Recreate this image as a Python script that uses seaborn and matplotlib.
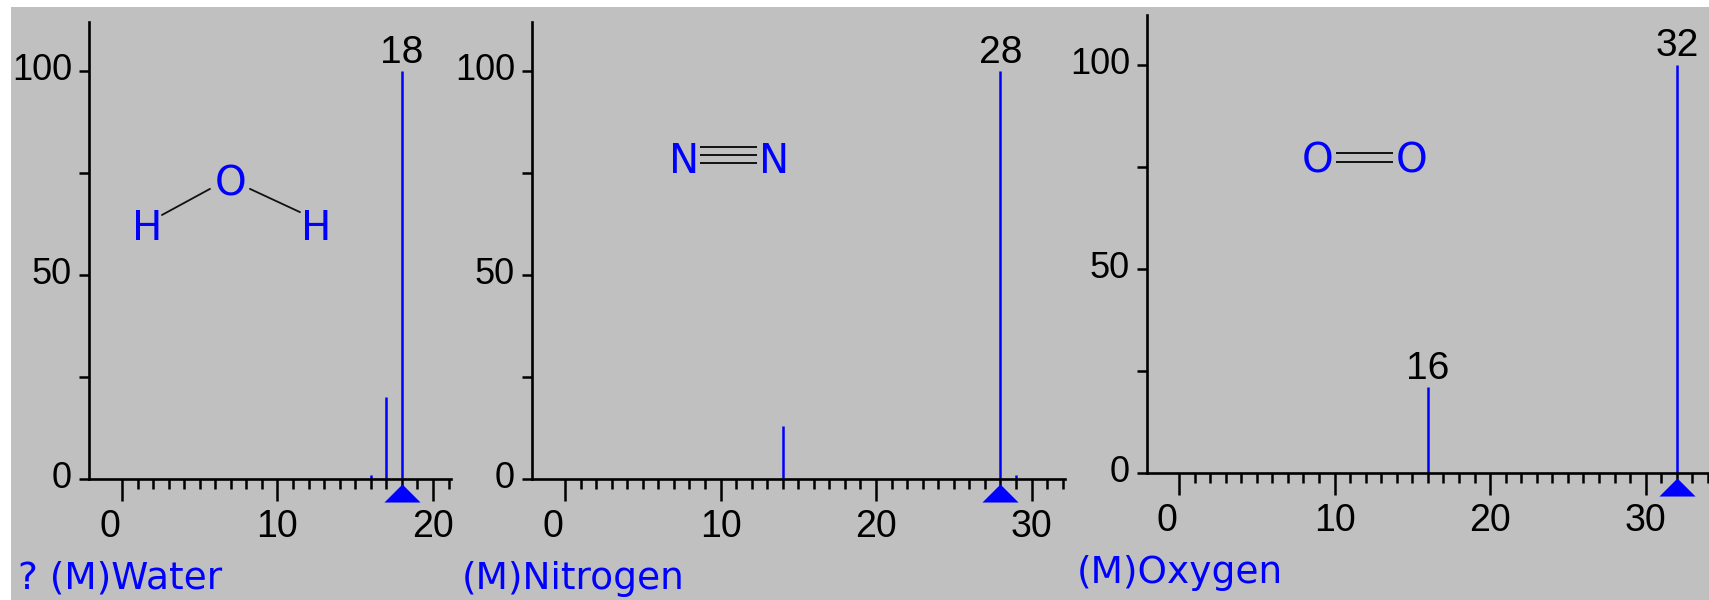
import matplotlib
matplotlib.use('Agg')
import matplotlib.pyplot as plt
import matplotlib.transforms as mtransforms
from matplotlib.patches import Rectangle
from matplotlib.path import Path
from matplotlib.ticker import FixedLocator, NullFormatter
import seaborn as sns

# mass spectra (m/z, relative intensity)
water_mz = [16, 17, 18]
water_int = [1, 20, 100]
nitrogen_mz = [14, 28, 29]
nitrogen_int = [13, 100, 1]
oxygen_mz = [16, 32]
oxygen_int = [21, 100]

titles = ['? (M)Water', '(M)Nitrogen', '(M)Oxygen']
labelled = [[18], [28], [16, 32]]
x_major = [0, 10, 20, 30]
y_major = [0, 50, 100]
y_minor = [25, 75]

W, H = 1709, 600
BLUE = '#0000ff'
GRAY = '#c0c0c0'
INK = '#111111'

sns.set_theme(style='ticks', rc={
    'axes.linewidth': 1.9,
    'axes.edgecolor': 'black',
    'axes.facecolor': 'none',
    'xtick.color': 'black',
    'ytick.color': 'black',
    'text.color': 'black',
})
plt.rcParams['font.family'] = ['Liberation Sans', 'DejaVu Sans']


def box(left, top, right, bottom):
    return [left / W, 1 - bottom / H, (right - left) / W, (bottom - top) / H]


def atom(ax, x, y, s):
    ax.text(x, y, s, ha='center', va='baseline', color=BLUE, fontsize=29, family='DejaVu Sans')


def draw_water(ax):
    atom(ax, 7.0, 69.6, 'O')
    atom(ax, 1.6, 58.6, 'H')
    atom(ax, 12.5, 58.6, 'H')
    ax.plot([2.57, 5.66], [64.7, 71.1], color=INK, lw=1.3)
    ax.plot([8.23, 11.45], [71.1, 65.4], color=INK, lw=1.3)


def draw_nitrogen(ax):
    atom(ax, 7.65, 75.0, 'N')
    atom(ax, 13.44, 75.0, 'N')
    for yb in (81.4, 79.4, 77.5):
        ax.plot([8.68, 12.35], [yb, yb], color=INK, lw=1.4, solid_capstyle='butt')


def draw_oxygen(ax):
    atom(ax, 8.94, 73.5, 'O')
    atom(ax, 14.98, 73.5, 'O')
    for yb in (78.4, 76.2):
        ax.plot([10.1, 13.76], [yb, yb], color=INK, lw=1.4, solid_capstyle='butt')


spectra = [(water_mz, water_int), (nitrogen_mz, nitrogen_int), (oxygen_mz, oxygen_int)]
boxes = [(89, 22, 451, 479), (532, 22, 1065, 479), (1147, 15, 1739, 473)]
xlims = [(-2.12, 21.16), (-2.12, 32.15), (-2.06, 36.0)]
ytops = [112.0, 112.0, 112.2]
title_pos = [(18, 589), (462, 589), (1077, 583)]
structures = [draw_water, draw_nitrogen, draw_oxygen]

fig = plt.figure(figsize=(W / 100, H / 100), dpi=100)
fig.patch.set_facecolor('white')
fig.add_artist(Rectangle((11 / W, 0), 1, (H - 7) / H, transform=fig.transFigure,
                         facecolor=GRAY, edgecolor='none', zorder=-10))

tri = Path([(-1, -0.5), (1, -0.5), (0, 0.5), (-1, -0.5)])

for (mz, inten), bx, xl, yt, tp, title, labs, draw in zip(
        spectra, boxes, xlims, ytops, title_pos, titles, labelled, structures):
    ax = fig.add_axes(box(*bx))
    ax.set_facecolor('none')
    ax.set_xlim(*xl)
    ax.set_ylim(0, yt)
    sns.despine(ax=ax)

    ax.vlines(mz, 0, inten, color=BLUE, lw=1.8)

    # base peak marker under the axis
    base = mz[inten.index(max(inten))]
    trans = mtransforms.offset_copy(ax.transData, fig=fig, y=-13.5, units='dots')
    ax.plot([base], [0], marker=tri, ms=26, mew=0, color=BLUE, transform=trans, clip_on=False)

    for m in labs:
        ax.annotate(str(m), xy=(m, inten[mz.index(m)]), xytext=(0, 6), textcoords='offset points',
                    ha='center', va='baseline', fontsize=28)

    ax.xaxis.set_major_locator(FixedLocator([t for t in x_major if t <= xl[1]]))
    ax.xaxis.set_minor_locator(FixedLocator([t for t in range(0, int(xl[1]) + 1) if t % 10]))
    ax.yaxis.set_major_locator(FixedLocator(y_major))
    ax.yaxis.set_minor_locator(FixedLocator(y_minor))
    ax.yaxis.set_minor_formatter(NullFormatter())
    ax.tick_params(axis='x', which='major', length=15.8, width=1.8, pad=6, labelsize=27)
    ax.tick_params(axis='x', which='minor', length=7.2, width=1.8)
    ax.tick_params(axis='y', which='both', length=7.2, width=1.8, pad=5, labelsize=26)

    for tick in ax.yaxis.get_major_ticks():
        tick.label1.set_verticalalignment('center')
    zero = ax.xaxis.get_major_ticks()[0].label1
    zero.set_transform(zero.get_transform() + mtransforms.ScaledTranslation(-0.12, 0, fig.dpi_scale_trans))

    draw(ax)

    fig.text(tp[0] / W, 1 - tp[1] / H, title, color=BLUE, fontsize=27,
             family='DejaVu Sans', ha='left', va='baseline')

fig.savefig('out.png', dpi=100, facecolor=fig.get_facecolor())
